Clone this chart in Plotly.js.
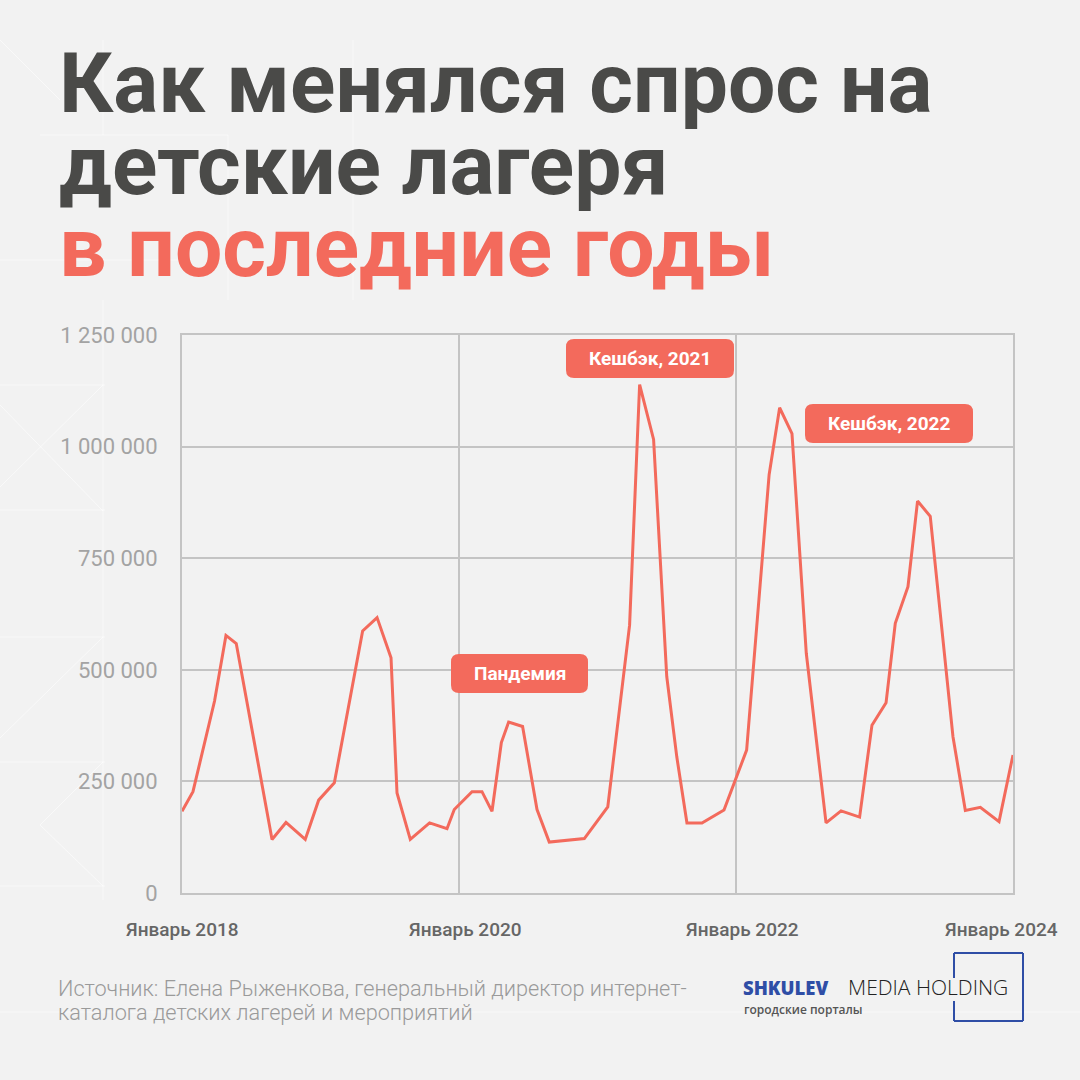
<!DOCTYPE html>
<html>
<head>
<meta charset="utf-8">
<script src="https://cdn.plot.ly/plotly-3.0.1.min.js"></script>
<style>
  html, body { margin: 0; padding: 0; background: #f2f2f2; }
  #chart { width: 1080px; height: 1080px; }
</style>
</head>
<body>
<div id="chart"></div>
<script>
// ---- Data (month index since January 2018, demand) ----
const monthIndex = [0, 0.95, 2.82, 3.81, 4.70, 7.80, 9.01, 10.68, 11.84, 13.20,
  15.65, 16.90, 18.11, 18.63, 19.78, 21.45, 22.96, 23.59, 25.13, 25.99,
  26.86, 27.67, 28.30, 29.51, 30.76, 31.82, 34.86, 36.89, 38.78, 39.65,
  40.86, 42.00, 42.87, 43.75, 45.05, 46.96, 48.92, 50.87, 51.78, 52.85,
  54.09, 55.80, 57.10, 58.71, 59.78, 61.00, 61.80, 62.90, 63.73, 64.83,
  66.80, 67.87, 69.17, 70.79, 72.00];
const demand = [183000, 227000, 430000, 577000, 559000, 120000, 158000, 120000, 208000, 247000,
  587000, 617000, 527000, 224000, 120000, 157000, 144000, 187000, 227000, 227000,
  183000, 337000, 383000, 373000, 187000, 114000, 122000, 193000, 600000, 1139000,
  1016000, 485000, 305000, 157000, 157000, 186000, 320000, 937000, 1087000, 1029000,
  537000, 157000, 184000, 170000, 376000, 426000, 604000, 686000, 878000, 844000,
  350000, 185000, 192000, 160000, 309000];

const xTickVals = [0, 24, 48, 72];
const xTickText = ['Январь 2018', 'Январь 2020', 'Январь 2022', 'Январь 2024'];
const yTickVals = [0, 250000, 500000, 750000, 1000000, 1250000];

const titleLines = ['Как менялся спрос на', 'детские лагеря', 'в последние годы'];
const callouts = [
  {text: 'Пандемия', box: [451, 654, 588, 693]},
  {text: 'Кешбэк, 2021', box: [566, 339, 734, 378]},
  {text: 'Кешбэк, 2022', box: [805, 404, 973, 443]}
];
const sourceLines = ['Источник: Елена Рыженкова, генеральный директор интернет-',
  'каталога детских лагерей и мероприятий'];

// ---- Layout helpers (pixel -> paper) ----
const M = {l: 182, r: 67, t: 335, b: 187};
const PW = 1080 - M.l - M.r, PH = 1080 - M.t - M.b;
const px = x => (x - M.l) / PW;
const py = y => (1080 - M.b - y) / PH;

const CORAL = '#f36a5c';
const DARK = '#4a4a48';

function roundRect(x0, y0, x1, y1, r) {
  const p = (x, y) => px(x) + ',' + py(y);
  return 'M' + p(x0 + r, y0) + ' L' + p(x1 - r, y0) + ' Q' + p(x1, y0) + ' ' + p(x1, y0 + r) +
    ' L' + p(x1, y1 - r) + ' Q' + p(x1, y1) + ' ' + p(x1 - r, y1) +
    ' L' + p(x0 + r, y1) + ' Q' + p(x0, y1) + ' ' + p(x0, y1 - r) +
    ' L' + p(x0, y0 + r) + ' Q' + p(x0, y0) + ' ' + p(x0 + r, y0) + ' Z';
}

const shapes = [];
const annotations = [];

// Faint decorative background lines
const deco = (x0, y0, x1, y1) => ({type: 'line', xref: 'paper', yref: 'paper', layer: 'below',
  x0: px(x0), y0: py(y0), x1: px(x1), y1: py(y1), line: {color: 'rgba(255,255,255,0.55)', width: 1}});
[[0, 385, 105, 385], [0, 510, 105, 510], [0, 637, 105, 637], [0, 762, 105, 762], [0, 886, 105, 886],
 [103, 300, 103, 900], [0, 487, 103, 385], [0, 405, 103, 511], [0, 738, 103, 637], [40, 825, 103, 762],
 [40, 825, 103, 886], [40, 135, 228, 135], [103, 40, 103, 135], [228, 135, 228, 300], [353, 40, 353, 300],
 [0, 260, 180, 260], [0, 40, 60, 100], [0, 1012, 1080, 1012]].forEach(l => shapes.push(deco(...l)));

// Title: one text block, tight leading (line gap = 1.3 x base size), glyphs enlarged via span
const titleSize = 84, titleLead = 82;
const titleHtml = titleLines.map((t, i) =>
  '<span style="font-size:' + titleSize + 'px' + (i === 2 ? ';color:' + CORAL : '') + '">' + t + '</span>'
).join('<br>');
annotations.push({
  text: titleHtml, xref: 'paper', yref: 'paper', x: px(57), y: py(166),
  xanchor: 'left', yanchor: 'middle', align: 'left', showarrow: false,
  font: {family: 'Roboto', size: titleLead / 1.3, weight: 700, color: DARK}
});

// Callouts
callouts.forEach(c => {
  const [x0, y0, x1, y1] = c.box;
  shapes.push({type: 'path', xref: 'paper', yref: 'paper', path: roundRect(x0, y0, x1, y1, 8),
    fillcolor: CORAL, line: {width: 0}, layer: 'above'});
  annotations.push({
    text: c.text, xref: 'paper', yref: 'paper', x: px((x0 + x1) / 2), y: py((y0 + y1) / 2),
    xanchor: 'center', yanchor: 'middle', showarrow: false,
    font: {family: 'Roboto', size: 19, weight: 700, color: '#ffffff'}
  });
});

// X tick labels (nudged as in the original)
xTickText.forEach((t, i) => {
  annotations.push({
    text: t, xref: 'x', yref: 'paper', x: xTickVals[i], y: py(929),
    xanchor: 'center', yanchor: 'middle', showarrow: false,
    xshift: i === xTickText.length - 1 ? -12 : (i === 0 ? 0 : 6),
    font: {family: 'Roboto', size: 19, weight: 500, color: '#666666'}
  });
});

// Source
const srcSize = 21.7, srcLead = 23.5;
annotations.push({
  text: sourceLines.map(t => '<span style="font-size:' + srcSize + 'px">' + t + '</span>').join('<br>'),
  xref: 'paper', yref: 'paper', x: px(56), y: py(1000),
  xanchor: 'left', yanchor: 'middle', align: 'left', showarrow: false,
  font: {family: 'Roboto', size: srcLead / 1.3, weight: 300, color: '#9a9a9a'}
});

// Logo
const BLUE = '#2f4ea6';
annotations.push({
  text: 'SHKULEV', xref: 'paper', yref: 'paper', x: px(741), y: py(987),
  xanchor: 'left', yanchor: 'middle', showarrow: false,
  font: {family: 'Open Sans', size: 18.5, weight: 800, color: BLUE}
});
annotations.push({
  text: 'MEDIA HOLDING', xref: 'paper', yref: 'paper', x: px(846), y: py(987),
  xanchor: 'left', yanchor: 'middle', showarrow: false,
  font: {family: 'Open Sans', size: 21, weight: 300, color: '#222222'}
});
annotations.push({
  text: 'городские порталы', xref: 'paper', yref: 'paper', x: px(742), y: py(1009.5),
  xanchor: 'left', yanchor: 'middle', showarrow: false,
  font: {family: 'Open Sans', size: 12, weight: 600, color: '#555555'}
});
const logoLine = (x0, y0, x1, y1) => ({type: 'line', xref: 'paper', yref: 'paper',
  x0: px(x0), y0: py(y0), x1: px(x1), y1: py(y1), line: {color: BLUE, width: 2}});
shapes.push(logoLine(954, 953, 1023, 953));
shapes.push(logoLine(1023, 953, 1023, 1021));
shapes.push(logoLine(954, 1021, 1023, 1021));
shapes.push(logoLine(954, 953, 954, 978));
shapes.push(logoLine(954, 1001, 954, 1021));

const trace = {
  x: monthIndex, y: demand, type: 'scatter', mode: 'lines',
  line: {color: CORAL, width: 3}, hoverinfo: 'skip'
};

const layout = {
  width: 1080, height: 1080,
  margin: M,
  paper_bgcolor: '#f2f2f2', plot_bgcolor: 'rgba(0,0,0,0)',
  separators: ', ',
  showlegend: false,
  xaxis: {
    range: [0, 72], tickvals: xTickVals, ticktext: xTickText, showticklabels: false,
    showgrid: true, gridcolor: '#c4c4c4', gridwidth: 2,
    showline: true, linecolor: '#c4c4c4', linewidth: 2, mirror: true,
    zeroline: false, ticks: '',
    fixedrange: true
  },
  yaxis: {
    range: [0, 1250000], tickvals: yTickVals, tickformat: ',d',
    showgrid: true, gridcolor: '#c4c4c4', gridwidth: 2,
    showline: true, linecolor: '#c4c4c4', linewidth: 2, mirror: true,
    zeroline: false, ticks: '', ticklabelstandoff: 18,
    tickfont: {family: 'Roboto', size: 22, color: '#a3a3a3'},
    fixedrange: true
  },
  shapes: shapes,
  annotations: annotations
};

Plotly.newPlot('chart', [trace], layout, {staticPlot: true, displayModeBar: false});
</script>
</body>
</html>
